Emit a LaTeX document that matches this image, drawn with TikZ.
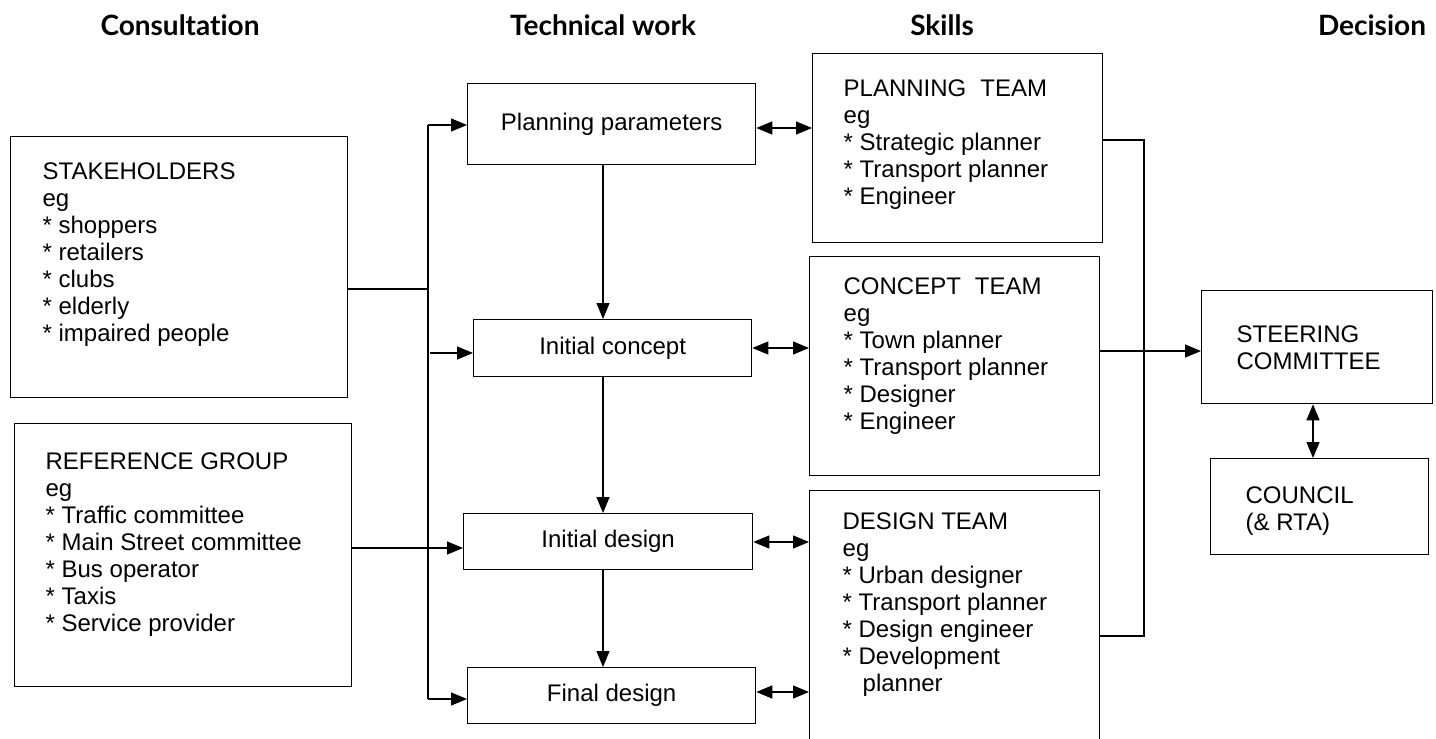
\documentclass[tikz,border=0pt]{standalone}
\usepackage{fontspec}
\setmainfont{Liberation Sans}
\newfontfamily\headfont[Ligatures={NoCommon,NoRequired,NoContextual}]{Lato}
\usetikzlibrary{arrows.meta}

% text block inside a box: width, height, top pad, left pad, lines
\newcommand{\inbox}[5]{\begin{minipage}[c][#2][t]{#1}\vspace*{#3}\leftskip=#4\relax #5\par\end{minipage}}
% list item star
\newcommand{\itm}{{*}\ }

\tikzset{
  box/.style={draw, line width=0.65pt, inner sep=0pt, anchor=north west,
    font=\fontsize{12}{13.5}\selectfont},
  stepbox/.style={box, align=center},
  link/.style={line width=0.65pt},
  arr/.style={link, -{Triangle[length=8pt,width=6.5pt]}},
  darr/.style={link, {Triangle[length=8pt,width=6.5pt]}-{Triangle[length=8pt,width=6.5pt]}},
  head/.style={font=\headfont\bfseries\fontsize{14}{16}\selectfont}
}

\begin{document}
\begin{tikzpicture}[x=0.5pt, y=-0.5pt]
  \useasboundingbox (0,0) rectangle (1436,739);
  \clip (0,0) rectangle (1436,739);

  % column headings
  \node[head] (hcons) at (180,25) {Consultation};
  \node[head] (htech) at (603,25) {Technical work};
  \node[head] (hskill) at (942,25) {Skills};
  \node[head] (hdec) at (1372,25) {Decision};

  % consultation
  \node[box] (stake) at (10,136) {\inbox{168.5pt}{130.5pt}{13pt}{16pt}{%
    STAKEHOLDERS\\ eg\\ \itm shoppers\\ \itm retailers\\ \itm clubs\\ \itm elderly\\ \itm impaired people}};
  \node[box] (ref) at (14,423) {\inbox{168.5pt}{131.5pt}{14.5pt}{15.5pt}{%
    REFERENCE GROUP\\ eg\\ \itm Traffic committee\\ \itm Main Street committee\\ \itm Bus operator\\ \itm Taxis\\ \itm Service provider}};

  % technical work
  \node[stepbox, minimum width=144pt, minimum height=40.5pt] (params) at (467,83) {Planning parameters};
  \node[stepbox, minimum width=139pt, minimum height=28.5pt] (iconcept) at (473,319) {Initial concept};
  \node[stepbox, minimum width=144.5pt, minimum height=28pt] (idesign) at (463,513) {Initial design};
  \node[stepbox, minimum width=144pt, minimum height=28pt] (fdesign) at (467,667) {Final design};

  % skills
  \node[box] (pteam) at (812,53) {\inbox{145pt}{94.5pt}{13pt}{15.5pt}{%
    PLANNING\hspace{7pt}TEAM\\ eg\\ \itm Strategic planner\\ \itm Transport planner\\ \itm Engineer}};
  \node[box] (cteam) at (809,256) {\inbox{145pt}{109.5pt}{10.5pt}{17pt}{%
    CONCEPT\hspace{7pt}TEAM\\ eg\\ \itm Town planner\\ \itm Transport planner\\ \itm Designer\\ \itm Engineer}};
  \node[box] (dteam) at (809,490) {\inbox{145pt}{150pt}{11pt}{16.5pt}{%
    DESIGN TEAM\\ eg\\ \itm Urban designer\\ \itm Transport planner\\ \itm Design engineer\\ \itm Development\\ \hspace*{10pt}planner}};

  % decision
  \node[box] (steer) at (1201,290) {\inbox{115.5pt}{56.5pt}{17.5pt}{17.5pt}{%
    STEERING\\ COMMITTEE}};
  \node[box] (council) at (1210,458) {\inbox{109pt}{48pt}{14pt}{17.5pt}{%
    COUNCIL\\ (\& RTA)}};

  % left bus
  \coordinate (ltop) at (428,125);
  \coordinate (lbot) at (428,699);
  \coordinate (lmid) at (430,353);
  \coordinate (sjoin) at (428,289);
  \coordinate (rjoin) at (428,548);
  \draw[link] (ltop) -- (lbot);
  \draw[arr] (ltop) -- (ltop -| params.west);
  \draw[arr] (lmid) -- (lmid -| iconcept.west);
  \draw[arr] (lbot) -- (lbot -| fdesign.west);
  \draw[link] (sjoin -| stake.east) -- (sjoin);
  \draw[arr] (rjoin -| ref.east) -- (rjoin -| idesign.west);

  % technical spine
  \coordinate (spine) at (603,0);
  \draw[arr] (params.south -| spine) -- (iconcept.north -| spine);
  \draw[arr] (iconcept.south -| spine) -- (idesign.north -| spine);
  \draw[arr] (idesign.south -| spine) -- (fdesign.north -| spine);

  % technical work <-> skills
  \draw[darr] (params.east |- 0,128) -- (pteam.west |- 0,128);
  \draw[darr] (iconcept.east |- 0,348) -- (cteam.west |- 0,348);
  \draw[darr] (idesign.east |- 0,542) -- (dteam.west |- 0,542);
  \draw[darr] (fdesign.east |- 0,692) -- (dteam.west |- 0,692);

  % right bus
  \coordinate (rtop) at (1144,140);
  \coordinate (rbot) at (1144,636);
  \draw[link] (rtop -| pteam.east) -- (rtop) -- (rbot) -- (rbot -| dteam.east);
  \draw[arr] (cteam.east |- 0,351) -- (steer.west |- 0,351);
  \draw[darr] (steer.south -| 1313,0) -- (council.north -| 1313,0);
\end{tikzpicture}
\end{document}
